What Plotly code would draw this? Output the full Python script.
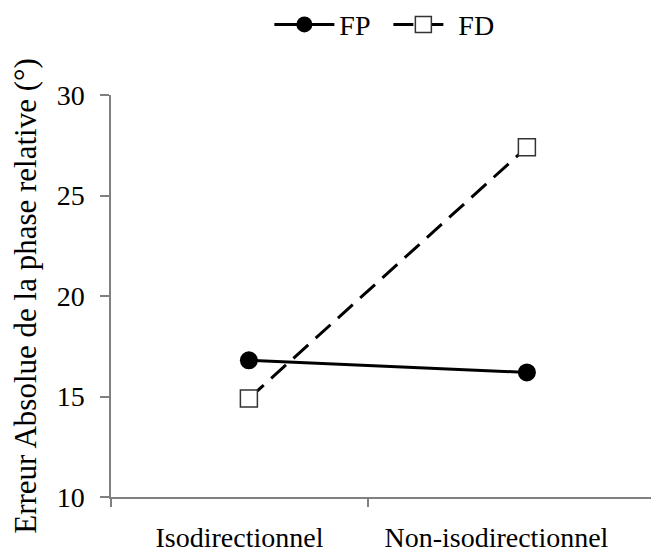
import plotly.graph_objects as go

categories = ["Isodirectionnel", "Non-isodirectionnel"]
fp_values = [16.8, 16.2]
fd_values = [14.9, 27.4]
y_ticks = [10, 15, 20, 25, 30]

FONT = "Liberation Serif, Times New Roman, serif"
AXIS_GRAY = "#808080"
PAGE_OFFSET = 8  # default body margin of the html page

fig = go.Figure()
fig.add_trace(go.Scatter(
    x=categories, y=fp_values, name="FP", mode="lines+markers",
    line=dict(color="black", width=3),
    marker=dict(symbol="circle", size=18, color="black"),
))
fig.add_trace(go.Scatter(
    x=categories, y=fd_values, name="FD", mode="lines+markers",
    line=dict(color="black", width=3, dash="20px,10px"),
    marker=dict(symbol="square", size=17, color="white",
                line=dict(color="#333333", width=1.5)),
))

n = len(categories)
fig.update_layout(
    width=659 - PAGE_OFFSET, height=554 - PAGE_OFFSET,
    margin=dict(l=111 - PAGE_OFFSET, r=2, t=95 - PAGE_OFFSET, b=57, autoexpand=False),
    paper_bgcolor="white", plot_bgcolor="white",
    font=dict(family=FONT, size=28, color="black"),
    showlegend=True,
    legend=dict(orientation="h", x=0.508, xanchor="center", y=1.237, yanchor="top",
                font=dict(size=28), itemwidth=60, entrywidth=44, entrywidthmode="pixels",
                bgcolor="rgba(0,0,0,0)"),
    xaxis=dict(type="category", range=[-0.496, 1.468], showticklabels=False,
               showline=False, showgrid=False, zeroline=False, ticks="",
               automargin=False),
    xaxis2=dict(overlaying="x", anchor="y", side="bottom", range=[0, n + 0.125],
                tickmode="array", tickvals=[i + 0.5 for i in range(n)], ticktext=categories,
                ticks="", showline=True, linecolor=AXIS_GRAY, linewidth=1.5,
                showgrid=False, zeroline=False, ticklabelstandoff=15, automargin=False,
                minor=dict(tickvals=list(range(n)), ticks="outside", ticklen=8,
                           tickcolor=AXIS_GRAY, tickwidth=1.5, showgrid=False),
                tickfont=dict(size=28)),
    yaxis=dict(range=[10, 30], tickvals=y_ticks, ticks="outside", ticklen=9,
               tickcolor=AXIS_GRAY, tickwidth=1.5, showline=True, linecolor=AXIS_GRAY,
               linewidth=1.5, showgrid=False, zeroline=False, ticklabelstandoff=10,
               tickfont=dict(size=28), automargin=False,
               title=dict(text="Erreur Absolue de la phase relative (°)", standoff=40,
                          font=dict(size=31))),
)
# helper trace so the label axis renders
fig.add_trace(go.Scatter(x=[0], y=[None], xaxis="x2", showlegend=False, hoverinfo="skip"))

fig.write_html("out.html")
